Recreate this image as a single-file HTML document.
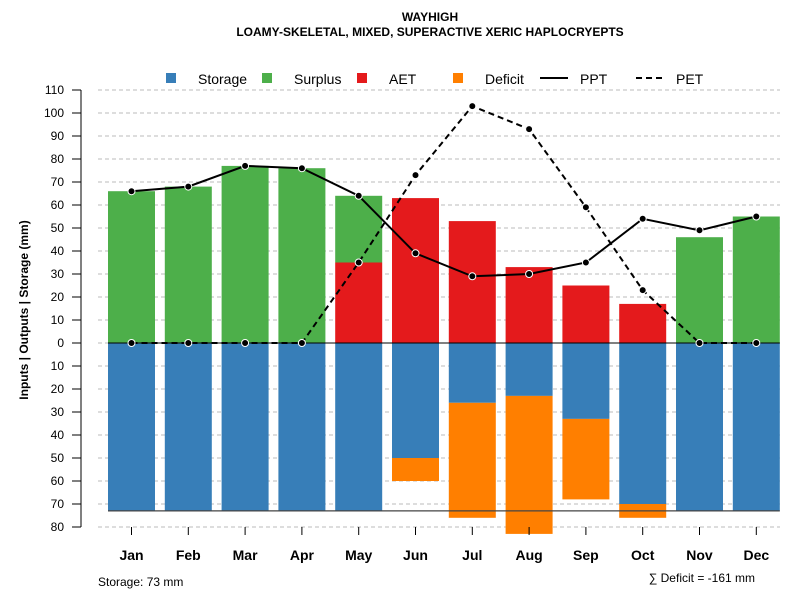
<!DOCTYPE html>
<html><head><meta charset="utf-8"><style>
body{margin:0;background:#fff;font-family:"Liberation Sans",sans-serif}
</style></head><body>
<svg id="c" width="800" height="600" xmlns="http://www.w3.org/2000/svg" font-family="Liberation Sans, sans-serif">
<text x="430" y="21" text-anchor="middle" font-size="12" font-weight="bold">WAYHIGH</text>
<text x="430" y="36" text-anchor="middle" font-size="12" font-weight="bold">LOAMY-SKELETAL, MIXED, SUPERACTIVE XERIC HAPLOCRYEPTS</text>
<g id="legend" font-size="14">
<g><rect x="166" y="73" width="10" height="10" fill="#377EB8"/><text x="198" y="84">Storage</text></g>
<g><rect x="262" y="73" width="10" height="10" fill="#4DAF4A"/><text x="294" y="84">Surplus</text></g>
<g><rect x="357" y="73" width="10" height="10" fill="#E41A1C"/><text x="389" y="84">AET</text></g>
<g><rect x="453" y="73" width="10" height="10" fill="#FF7F00"/><text x="485" y="84">Deficit</text></g>
<g><line x1="540" y1="78" x2="568" y2="78" stroke="#000" stroke-width="2"/><text x="580" y="84">PPT</text></g>
<g><line x1="636" y1="78" x2="664" y2="78" stroke="#000" stroke-width="2" stroke-dasharray="6,4"/><text x="676" y="84">PET</text></g>
</g>
<g id="grid"></g><g id="bars"></g><g id="lines"></g><g id="axes"></g>
<text x="28" y="310" transform="rotate(-90 28 310)" text-anchor="middle" font-size="12" font-weight="bold">Inputs | Outputs | Storage    (mm)</text>
<text x="98" y="586" font-size="12">Storage: 73 mm</text>
<text x="755" y="582" text-anchor="end" font-size="12">∑ Deficit = -161 mm</text>
</svg>
<script>
const months=["Jan","Feb","Mar","Apr","May","Jun","Jul","Aug","Sep","Oct","Nov","Dec"];
const surplus=[66,68,77,76,29,0,0,0,0,0,46,55];
const aet=[0,0,0,0,35,63,53,33,25,17,0,0];
const storage=[73,73,73,73,73,50,26,23,33,70,73,73];
const deficit=[0,0,0,0,0,10,50,60,35,6,0,0];
const ppt=[66,68,77,76,64,39,29,30,35,54,49,55];
const pet=[0,0,0,0,35,73,103,93,59,23,0,0];
const yTicks=[110,100,90,80,70,60,50,40,30,20,10,0,-10,-20,-30,-40,-50,-60,-70,-80];
const capacity=73;
const NS="http://www.w3.org/2000/svg";
const y=v=>343-v*2.3;
const x=i=>131.5+i*56.8;
const bw=47;
function mk(p,t,a){const e=document.createElementNS(NS,t);for(const k in a)e.setAttribute(k,a[k]);p.appendChild(e);return e;}
const G=document.getElementById('grid'),B=document.getElementById('bars'),L=document.getElementById('lines'),A=document.getElementById('axes');
yTicks.forEach(t=>{
 const g=mk(G,'line',{x1:98,x2:780,y1:y(t),y2:y(t),stroke:'#bbb','stroke-dasharray':'4,3'});
 
 
 const tk=mk(A,'line',{x1:72,x2:81,y1:y(t),y2:y(t),stroke:'#000'});
 
 
 const tx=mk(A,'text',{x:64,y:y(t)+4,'text-anchor':'end','font-size':12});
 tx.textContent=Math.abs(t);
 
 
});
const yl=mk(A,'line',{x1:81,x2:81,y1:y(110),y2:y(-80),stroke:'#000'});


months.forEach((m,i)=>{
 const cx=x(i),x0=cx-bw/2;
 const segs=[[0,aet[i],'#E41A1C','aet'],[aet[i],aet[i]+surplus[i],'#4DAF4A','surplus'],[0,-storage[i],'#377EB8','storage'],[-storage[i],-storage[i]-deficit[i],'#FF7F00','deficit']];
 segs.forEach(s=>{if(s[0]===s[1])return;
  const r=mk(B,'rect',{x:x0,width:bw,y:Math.min(y(s[0]),y(s[1])),height:Math.abs(y(s[0])-y(s[1])),fill:s[2]});
  
  
 });
 const tk=mk(A,'line',{x1:cx,x2:cx,y1:527,y2:535,stroke:'#000'});
 
 
 const tx=mk(A,'text',{x:cx,y:560,'text-anchor':'middle','font-size':14,'font-weight':'bold'});
 tx.textContent=m;
 
 
});
const cap=mk(L,'line',{x1:x(0)-bw/2,x2:x(11)+bw/2,y1:y(-capacity),y2:y(-capacity),stroke:'#444','stroke-width':1.2});


const zl=mk(L,'line',{x1:x(0)-bw/2,x2:x(11)+bw/2,y1:y(0),y2:y(0),stroke:'#000'});


[[pet,'6,4','pet'],[ppt,null,'ppt']].forEach(([d,da,n])=>{
 const p=mk(L,'polyline',{points:d.map((v,i)=>x(i)+','+y(v)).join(' '),fill:'none',stroke:'#000','stroke-width':2});
 if(da)p.setAttribute('stroke-dasharray',da);
 
 
 d.forEach((v,i)=>{const c=mk(L,'circle',{cx:x(i),cy:y(v),r:3.5,fill:'#000',stroke:'#fff','stroke-width':1});
  
  });
});
</script>
</body></html>
